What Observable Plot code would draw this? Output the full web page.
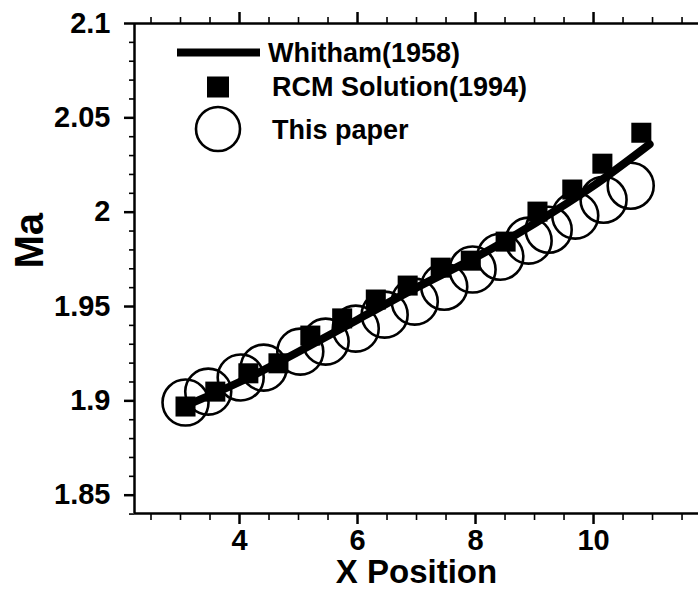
<!DOCTYPE html>
<html>
<head>
<meta charset="utf-8">
<script src="https://cdn.jsdelivr.net/npm/d3@7"></script>
<script src="https://cdn.jsdelivr.net/npm/@observablehq/plot@0.6"></script>
<style>
  html, body { margin: 0; padding: 0; background: #fff; }
  #chart svg { display: block; }
</style>
</head>
<body>
<div id="chart"></div>
<script>
// Whitham (1958) analytic curve
const whithamX = [3.05, 4, 5, 6, 7, 8, 9, 10, 10.95];
const whithamY = [1.897, 1.910, 1.926, 1.943, 1.960, 1.976, 1.994, 2.014, 2.036];

// RCM Solution (1994)
const rcmX = [3.085, 3.59, 4.15, 4.66, 5.20, 5.74, 6.31, 6.85, 7.41, 7.92, 8.51, 9.05, 9.64, 10.15, 10.81];
const rcmY = [1.897, 1.9049, 1.9146, 1.9199, 1.9346, 1.9437, 1.9537, 1.9611, 1.9706, 1.9743, 1.9844, 2.0003, 2.012, 2.0257, 2.0421];

// This paper
const paperX = [3.085, 3.47, 4.02, 4.41, 5.03, 5.46, 5.97, 6.46, 6.97, 7.47, 7.95, 8.42, 8.90, 9.24, 9.69, 10.17, 10.63];
const paperY = [1.8991, 1.9049, 1.9124, 1.9176, 1.9261, 1.9314, 1.9383, 1.9457, 1.9526, 1.9605, 1.9696, 1.9764, 1.9849, 1.9907, 1.9982, 2.0066, 2.0140];

// ticks
const xMajor = [4, 6, 8, 10];
const xMinor = [2.5, 3, 3.5, 4.5, 5, 5.5, 6.5, 7, 7.5, 8.5, 9, 9.5, 10.5, 11, 11.5];
const yMajor = [1.85, 1.9, 1.95, 2, 2.05, 2.1];
const yMinor = d3.range(1.84, 2.1001, 0.01).map(v => +v.toFixed(2)).filter(v => !yMajor.includes(v));

const legendLabels = ["Whitham(1958)", "RCM Solution(1994)", "This paper"];
const xLabel = "X Position";
const yLabel = "Ma";

const whitham = whithamX.map((x, i) => ({x, y: whithamY[i]}));
const rcm = rcmX.map((x, i) => ({x, y: rcmY[i]}));
const paper = paperX.map((x, i) => ({x, y: paperY[i]}));

const xDomain = [2.2203, 11.779];
const yDomain = [1.8403, 2.1];
const fmt = d => String(+d.toFixed(2));

const plot = Plot.plot({
  width: 698,
  height: 590,
  marginLeft: 134,
  marginRight: 0,
  marginTop: 23,
  marginBottom: 77,
  style: {fontFamily: "'Liberation Sans', Arial, sans-serif", fontWeight: "bold", fontSize: "29px", color: "#000", background: "#fff"},
  x: {domain: xDomain},
  y: {domain: yDomain},
  marks: [
    // minor ticks
    Plot.axisX(xMinor, {anchor: "bottom", tickSize: 7, strokeWidth: 1.6, tickFormat: () => "", label: null}),
    Plot.axisX(xMinor, {anchor: "top", tickSize: 7, strokeWidth: 1.6, tickFormat: () => "", label: null}),
    Plot.axisY(yMinor, {anchor: "left", tickSize: 5, strokeWidth: 1.6, tickFormat: () => "", label: null}),
    // major ticks
    Plot.axisX(xMajor, {anchor: "bottom", tickSize: 11, tickPadding: 5, strokeWidth: 2.5, tickFormat: fmt, label: null, fontSize: 29}),
    Plot.axisX(xMajor, {anchor: "top", tickSize: 12, strokeWidth: 2.5, tickFormat: () => "", label: null}),
    Plot.axisY(yMajor, {anchor: "left", tickSize: 10, tickPadding: 14, strokeWidth: 2.5, tickFormat: fmt, label: null, fontSize: 29}),
    // axis lines
    Plot.ruleX([xDomain[0]], {strokeWidth: 2.5}),
    Plot.ruleY([yDomain[0]], {strokeWidth: 2.5}),
    Plot.ruleY([yDomain[1]], {strokeWidth: 2.5}),
    // data
    Plot.line(whitham, {x: "x", y: "y", curve: "natural", stroke: "#000", strokeWidth: 8}),
    Plot.dot(paper, {x: "x", y: "y", r: 23, stroke: "#000", strokeWidth: 2.6, fill: "none"}),
    Plot.dot(rcm, {x: "x", y: "y", symbol: "square", r: 11.3, fill: "#000", stroke: "none"}),
    // axis titles
    Plot.text([yLabel], {frameAnchor: "left", dx: -104, rotate: -90, lineAnchor: "middle", fontSize: 40, fontWeight: "bold", fill: "#000"}),
    Plot.text([xLabel], {frameAnchor: "bottom", dy: 59, lineAnchor: "middle", fontSize: 33, fontWeight: "bold", fill: "#000"})
  ]
});

document.getElementById("chart").appendChild(plot);

// enforce tick label size
const tickStrings = new Set([...xMajor, ...yMajor].map(fmt));
plot.querySelectorAll("text").forEach(t => {
  if (tickStrings.has(t.textContent.trim())) {
    t.style.fontSize = "29px";
    t.style.fontWeight = "bold";
    t.setAttribute("font-size", "29");
  }
});

// legend inside the frame
const svg = d3.select(plot);
const lg = svg.append("g")
  .attr("font-family", "'Liberation Sans', Arial, sans-serif")
  .attr("font-weight", "bold")
  .attr("font-size", 27)
  .attr("text-anchor", "start");
lg.append("line").attr("x1", 177).attr("x2", 260).attr("y1", 52.5).attr("y2", 52.5).attr("stroke", "#000").attr("stroke-width", 8);
lg.append("rect").attr("x", 207).attr("y", 76.5).attr("width", 22).attr("height", 21).attr("fill", "#000");
lg.append("circle").attr("cx", 218).attr("cy", 129).attr("r", 22).attr("fill", "none").attr("stroke", "#000").attr("stroke-width", 2.6);
const ly = [52.5, 87, 130];
const lx = [268, 272, 272];
legendLabels.forEach((t, i) => {
  lg.append("text").attr("x", lx[i]).attr("y", ly[i]).attr("dy", "0.35em").attr("text-anchor", "start").attr("fill", "#000").text(t);
});
</script>
</body>
</html>
